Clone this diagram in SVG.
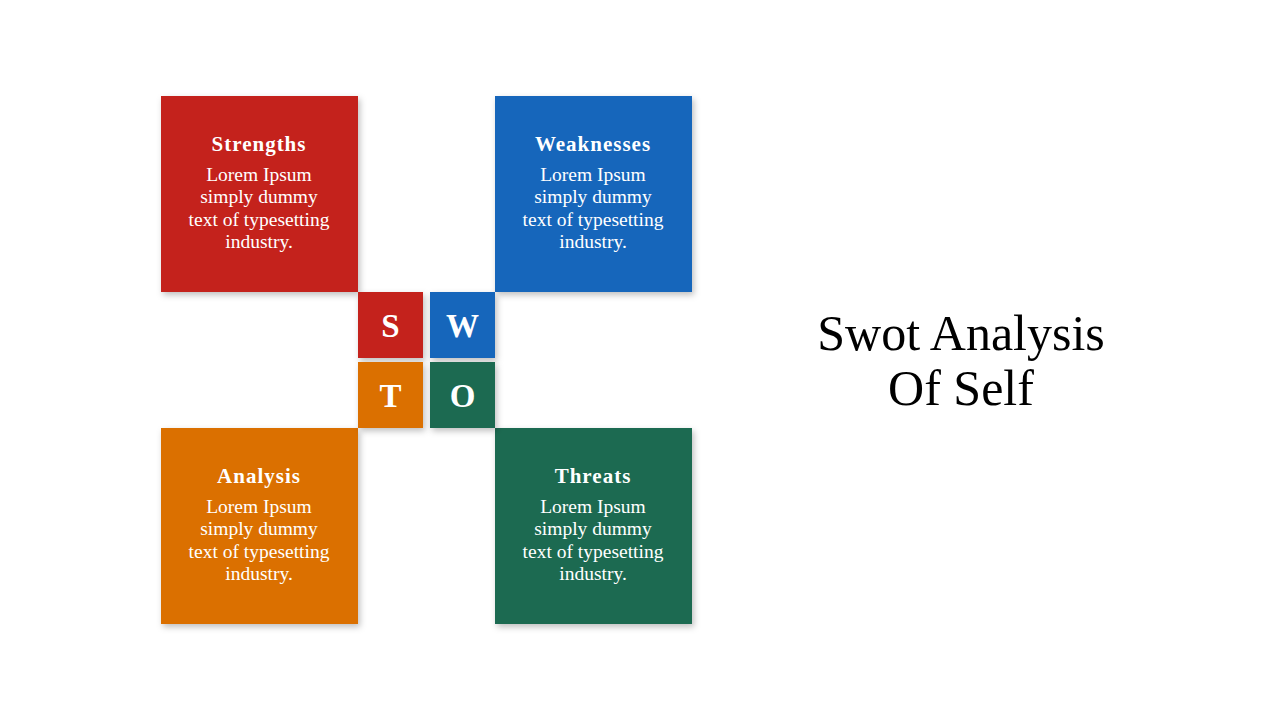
<svg xmlns="http://www.w3.org/2000/svg" width="1280" height="720" viewBox="0 0 1280 720">
<defs>
<filter id="sh" x="-10%" y="-10%" width="130%" height="130%">
<feDropShadow dx="2" dy="3" stdDeviation="3" flood-color="#000" flood-opacity="0.25"/>
</filter>
</defs>
<style>
.hd{font-family:"Liberation Serif","DejaVu Serif",serif;font-weight:bold;font-size:21px;letter-spacing:1px;fill:#fff;text-anchor:middle}
.bd{font-family:"Liberation Serif","DejaVu Serif",serif;font-size:19.5px;fill:#fff;text-anchor:middle}
.lt{font-family:"Liberation Serif","DejaVu Serif",serif;font-weight:bold;font-size:33px;fill:#fff;text-anchor:middle}
.ti{font-family:"Liberation Serif","DejaVu Serif",serif;font-size:50px;fill:#000;text-anchor:middle}
.red{fill:#C4241C}.blue{fill:#1766BB}.orange{fill:#DB6F03}.green{fill:#1E6B51}
</style>
<rect width="1280" height="720" fill="#fff"/>
<g id="strengths">
<rect x="161" y="96" width="197" height="196" class="red" filter="url(#sh)"/>
<text class="hd" x="259" y="151">Strengths</text>
<text class="bd" x="259" y="181">Lorem Ipsum</text>
<text class="bd" x="259" y="203">simply dummy</text>
<text class="bd" x="259" y="226">text of typesetting</text>
<text class="bd" x="259" y="248">industry.</text>
</g>
<g id="weaknesses">
<rect x="495" y="96" width="197" height="196" class="blue" filter="url(#sh)"/>
<text class="hd" x="593" y="151">Weaknesses</text>
<text class="bd" x="593" y="181">Lorem Ipsum</text>
<text class="bd" x="593" y="203">simply dummy</text>
<text class="bd" x="593" y="226">text of typesetting</text>
<text class="bd" x="593" y="248">industry.</text>
</g>
<g id="analysis">
<rect x="161" y="428" width="197" height="196" class="orange" filter="url(#sh)"/>
<text class="hd" x="259" y="483">Analysis</text>
<text class="bd" x="259" y="513">Lorem Ipsum</text>
<text class="bd" x="259" y="535">simply dummy</text>
<text class="bd" x="259" y="558">text of typesetting</text>
<text class="bd" x="259" y="580">industry.</text>
</g>
<g id="threats">
<rect x="495" y="428" width="197" height="196" class="green" filter="url(#sh)"/>
<text class="hd" x="593" y="483">Threats</text>
<text class="bd" x="593" y="513">Lorem Ipsum</text>
<text class="bd" x="593" y="535">simply dummy</text>
<text class="bd" x="593" y="558">text of typesetting</text>
<text class="bd" x="593" y="580">industry.</text>
</g>
<g id="s">
<rect x="358" y="292" width="65" height="66" class="red" filter="url(#sh)"/>
<text class="lt" x="390.5" y="337">S</text>
</g>
<g id="w">
<rect x="430" y="292" width="65" height="66" class="blue" filter="url(#sh)"/>
<text class="lt" x="462.5" y="337">W</text>
</g>
<g id="t">
<rect x="358" y="362" width="65" height="66" class="orange" filter="url(#sh)"/>
<text class="lt" x="390.5" y="407">T</text>
</g>
<g id="o">
<rect x="430" y="362" width="65" height="66" class="green" filter="url(#sh)"/>
<text class="lt" x="462.5" y="407">O</text>
</g>
<g id="connectors"/>
<g id="title">
<text class="ti" x="961" y="350">Swot Analysis</text>
<text class="ti" x="961" y="405">Of Self</text>
</g>
</svg>
